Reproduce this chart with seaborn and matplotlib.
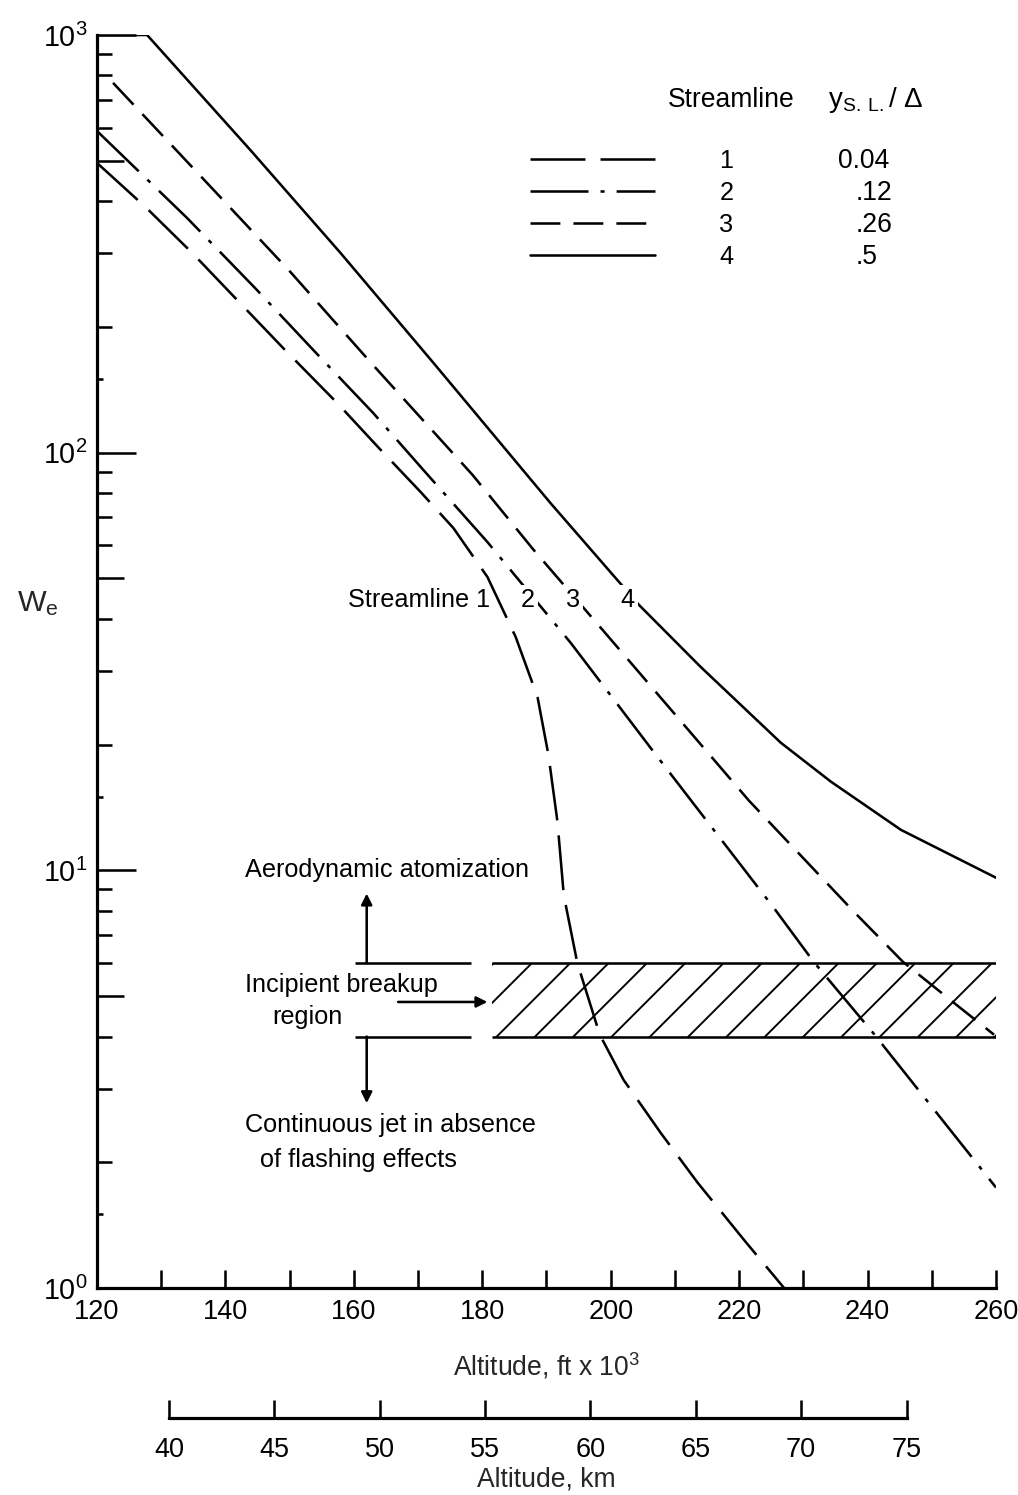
import numpy as np
import pandas as pd
import matplotlib
matplotlib.use('Agg')
import matplotlib.pyplot as plt
import seaborn as sns
from matplotlib.lines import Line2D
from matplotlib.ticker import FixedLocator

# Weber number along each streamline vs altitude (ft x 10^3)
alt_1 = [120, 127.5, 134.8, 142.3, 149.3, 157.4, 163.8, 170.4, 175.5, 180.8, 185.2,
         188.6, 190.3, 191.7, 192.7, 194.8, 198.3, 202.0, 207.8, 213.5, 221.0, 227.0]
we_1 = [494, 388, 301, 228, 176, 131.5, 103, 80.5, 66.0, 50.4, 36.2,
        26.0, 18.9, 13.1, 8.7, 6.0, 4.04, 3.15, 2.35, 1.79, 1.29, 1.0]

alt_2 = [120, 134.0, 144.6, 153.7, 163.0, 171.1, 180.8, 193.8, 206.7, 225.4, 231.6, 240.7, 260]
we_2 = [589, 365, 248, 176, 124.5, 89.9, 61.1, 35.0, 19.2, 8.13, 6.04, 4.11, 1.74]

alt_3 = [122.5, 136.1, 150.1, 163.0, 178.5, 188.0, 200.5, 221.5, 237.9, 245.5, 253.5, 259.7]
we_3 = [768, 460, 271, 162, 88.4, 58.5, 35.0, 14.7, 7.95, 6.04, 4.81, 4.04]

alt_4 = [120, 127.8, 143.9, 157.9, 172.4, 190.6, 204.4, 214.0, 226.5, 234.3, 245.2, 260]
we_4 = [1000, 1000, 530, 301, 164, 75.8, 43.2, 30.7, 20.2, 16.3, 12.5, 9.6]

streamlines = ['1', '2', '3', '4']
ysl_ratio = ['0.04', '.12', '.26', '.5']

# incipient breakup region
band_we = [4, 6]
band_alt = [181.5, 260]
band_left_alt = [160.2, 178.2]

FT_TO_KM = 0.3048
DPI = 230

sns.set_theme(style='white')
plt.rcParams['font.family'] = ['Liberation Sans', 'DejaVu Sans']
plt.rcParams['mathtext.default'] = 'regular'
plt.rcParams['hatch.linewidth'] = 0.6
plt.rcParams['hatch.color'] = 'black'
plt.rcParams['text.color'] = 'black'
plt.rcParams['xtick.labelcolor'] = 'black'
plt.rcParams['ytick.labelcolor'] = 'black'

df = pd.concat([
    pd.DataFrame({'alt': a, 'we': w, 'streamline': s})
    for a, w, s in zip([alt_1, alt_2, alt_3, alt_4], [we_1, we_2, we_3, we_4], streamlines)
], ignore_index=True)

dash_map = {'1': (21.5, 5.9), '2': (22.7, 4.7, 1.6, 4.7), '3': (11.7, 5.1), '4': ''}
LW = 0.8
TXT = 7.9
LBL = 8.3

fig = plt.figure(figsize=(1018 / DPI, 1495 / DPI), dpi=DPI)
ax = fig.add_axes([97 / 1018, 1 - 1288 / 1495, 899 / 1018, 1253 / 1495])

sns.lineplot(data=df, x='alt', y='we', style='streamline', style_order=streamlines,
             dashes=dash_map, color='black', estimator=None, sort=False,
             linewidth=LW, legend=False, ax=ax)

ax.set_yscale('log')
ax.set_xlim(120, 260)
ax.set_ylim(1, 1000)

# hatched band + its left-hand bounding lines
ax.fill_between(band_alt, band_we[0], band_we[1], facecolor='none', edgecolor='black',
                hatch='//', linewidth=0)
ax.hlines(band_we, band_alt[0], band_alt[1], color='black', lw=LW)
ax.hlines(band_we, band_left_alt[0], band_left_alt[1], color='black', lw=LW)

arrow = dict(arrowstyle='-|>', color='black', lw=LW, shrinkA=0, shrinkB=0, mutation_scale=7)
ax.annotate('', xy=(162.0, 8.8), xytext=(162.0, band_we[1]), arrowprops=arrow)
ax.annotate('', xy=(162.0, 2.77), xytext=(162.0, band_we[0]), arrowprops=arrow)
ax.annotate('', xy=(180.8, 4.84), xytext=(166.9, 4.84), arrowprops=arrow)

ax.text(143.1, 10.0, 'Aerodynamic atomization', fontsize=TXT, va='center')
ax.text(143.1, 5.32, 'Incipient breakup', fontsize=TXT, va='center')
ax.text(147.3, 4.46, 'region', fontsize=TXT, va='center')
ax.text(143.1, 2.46, 'Continuous jet in absence', fontsize=TXT, va='center')
ax.text(145.4, 2.03, 'of flashing effects', fontsize=TXT, va='center')

lab_box = dict(facecolor='white', edgecolor='none', pad=1.0)
ax.text(159.1, 44.4, 'Streamline 1', fontsize=TXT, va='center', ha='left')
ax.text(187.1, 44.4, '2', fontsize=TXT, va='center', ha='center', bbox=lab_box)
ax.text(194.1, 44.4, '3', fontsize=TXT, va='center', ha='center', bbox=lab_box)
ax.text(202.6, 44.4, '4', fontsize=TXT, va='center', ha='center', bbox=lab_box)

# axes styling
ax.spines[['top', 'right']].set_visible(False)
for s in ['left', 'bottom']:
    ax.spines[s].set_linewidth(1.0)
    ax.spines[s].set_color('black')

ax.xaxis.set_major_locator(FixedLocator(range(120, 261, 20)))
ax.xaxis.set_minor_locator(FixedLocator(range(130, 260, 20)))
ax.tick_params(axis='x', which='both', bottom=True, direction='in', length=5.6, width=0.8,
               color='black', pad=3.5, labelsize=8.5)
ax.yaxis.set_major_locator(FixedLocator([1, 10, 100, 1000]))
ax.yaxis.set_minor_locator(FixedLocator([m * 10 ** e for e in range(3) for m in (2, 3, 4, 6, 7, 8, 9)]))
ax.tick_params(axis='y', which='major', left=True, direction='in', length=12.2, width=0.8,
               color='black', pad=3, labelsize=9)
ax.tick_params(axis='y', which='minor', left=True, direction='in', length=4.7, width=0.8, color='black')

# extra tick sets of other lengths (5's and 1.5's)
for vals, ln in [([5, 50, 500], 8.5), ([1.5, 15, 150], 1.9)]:
    sec = ax.secondary_yaxis('left')
    sec.set_yticks(vals)
    sec.tick_params(which='major', direction='in', length=ln, width=0.8, color='black', labelleft=False)
    sec.tick_params(which='minor', length=0, labelleft=False)
    sec.spines['left'].set_visible(False)

ax.set_xlabel('Altitude, ft x 10$^3$', fontsize=LBL, labelpad=8)
ax.set_ylabel('W$_e$', fontsize=9.5, rotation=0)
ax.yaxis.set_label_coords(-0.066, 0.535)

km = ax.secondary_xaxis(-0.1037, functions=(lambda f: f * FT_TO_KM, lambda k: k / FT_TO_KM))
km.set_xticks(range(40, 76, 5))
km.spines['bottom'].set_bounds(40, 75)
km.spines['bottom'].set_linewidth(1.0)
km.spines['bottom'].set_color('black')
km.tick_params(direction='in', length=5.6, width=0.8, color='black', pad=6, labelsize=8.5)
km.set_xlabel('Altitude, km', fontsize=LBL, labelpad=1)

# legend (line samples + streamline number), then y/delta column aligned to its rows
handles = [Line2D([], [], color='black', lw=LW, dashes=dash_map[s]) for s in streamlines]
leg = ax.legend(handles, streamlines, loc='upper left', bbox_to_anchor=(0.4817, 0.909),
                frameon=False, fontsize=TXT, handlelength=4.95, handletextpad=2.55,
                labelspacing=0.32, borderpad=0, borderaxespad=0)
ax.text(0.7052, 0.9481, 'Streamline', transform=ax.transAxes, fontsize=LBL, ha='center', va='center')
ax.text(0.8131, 0.9481, 'y$_{S.\\,L.}$/ Δ', transform=ax.transAxes, fontsize=LBL + 0.4,
        ha='left', va='center')

fig.canvas.draw()
inv = ax.transAxes.inverted()
for t, val in zip(leg.get_texts(), ysl_ratio):
    bb = t.get_window_extent()
    yf = inv.transform((0, (bb.y0 + bb.y1) / 2))[1]
    xf = 0.8242 if val.startswith('0') else 0.8443
    ax.text(xf, yf, val, transform=ax.transAxes, fontsize=LBL, ha='left', va='center')

fig.savefig('out.png', dpi=DPI)
